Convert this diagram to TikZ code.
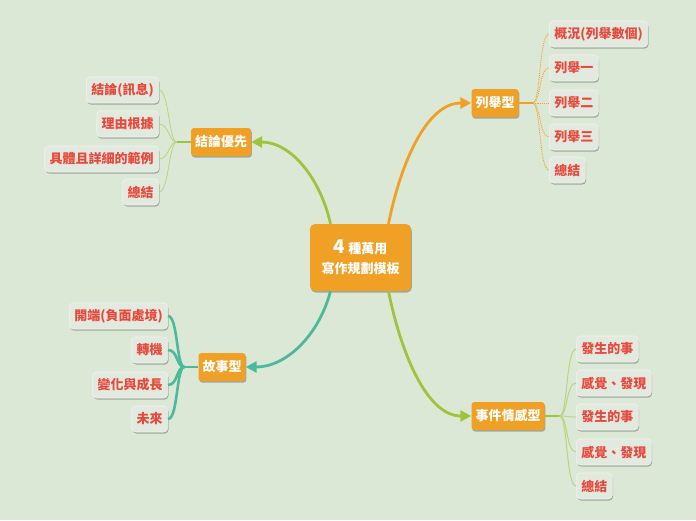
\documentclass[tikz,border=0pt]{standalone}
\usepackage{fontspec}
\setmainfont{Noto Sans CJK TC}
\usetikzlibrary{shadows,arrows.meta}
\definecolor{bgcol}{HTML}{DCE8D6}
\definecolor{mainorange}{HTML}{F0A024}
\definecolor{leafgray}{HTML}{E2EADF}
\definecolor{leafred}{HTML}{E8493D}
\definecolor{grassgreen}{HTML}{9EC43E}
\definecolor{paleleaf}{HTML}{B8D57E}
\definecolor{tealgreen}{HTML}{4BBA9C}

\tikzset{
  softshadow/.style={drop shadow={shadow xshift=0.8pt, shadow yshift=-1.6pt, fill=black, opacity=0.28}},
  topic/.style={fill=mainorange, text=white, rounded corners=3pt, inner xsep=4pt, inner ysep=0pt,
    minimum height=28pt, font=\fontsize{13}{15}\selectfont\bfseries, softshadow},
  leaf/.style={fill=leafgray, draw=white!50!leafgray, line width=0.6pt, text=leafred, rounded corners=4pt,
    inner xsep=5pt, inner ysep=0pt, minimum height=26pt, font=\fontsize{13}{15}\selectfont\bfseries, softshadow},
  mainlink/.style={line width=2.8pt, -{Triangle[length=11pt,width=11pt]}},
}

\begin{document}
\begin{tikzpicture}[x=1pt, y=-1pt]
    \fill[bgcol] (0,0) rectangle (696,520);
    \useasboundingbox (0,0) rectangle (696,520);

    % centre
    \node[fill=mainorange, text=white, rounded corners=5pt, minimum width=101pt, minimum height=67pt,
      align=center, softshadow, font=\fontsize{13}{20}\selectfont\bfseries] (core) at (360.5,257.5)
      {{\fontsize{19}{20}\selectfont 4} 種萬用\\寫作規劃模板};

    % branches
    \node[topic] (list) at (495,103) {列舉型};
    \node[topic] (concl) at (221,142) {結論優先};
    \node[topic] (story) at (222,367) {故事型};
    \node[topic] (event) at (508,416) {事件情感型};

    \draw[mainlink, mainorange] ([xshift=28pt]core.north) .. controls +(12,-60) and +(-45,0) .. (list.west);
    \draw[mainlink, grassgreen] ([xshift=-30pt]core.north) .. controls +(-10,-45) and +(40,0) .. (concl.east);
    \draw[mainlink, tealgreen] ([xshift=-30pt]core.south) .. controls +(-12,45) and +(40,0) .. (story.east);
    \draw[mainlink, grassgreen] ([xshift=28pt]core.south) .. controls +(12,60) and +(-45,0) .. (event.west);

    % 列舉型
    \node[leaf, anchor=west] (lista) at (549,34) {概況(列舉數個)};
    \node[leaf, anchor=west] (listb) at (549,68) {列舉一};
    \node[leaf, anchor=west] (listc) at (549,103) {列舉二};
    \node[leaf, anchor=west] (listd) at (549,137) {列舉三};
    \node[leaf, anchor=west] (liste) at (549,170) {總結};
    \coordinate (listj) at ([xshift=14pt]list.east);
    \draw[mainorange, line width=1.2pt] (list.east) -- (listj);
    \foreach \n in {a,b,c,d,e}
      \draw[mainorange, densely dotted, line width=0.9pt] (listj) .. controls +(8,0) and +(-10,0) .. (list\n.west);

    % 結論優先
    \node[leaf, anchor=east] (concla) at (159,90) {結論(訊息)};
    \node[leaf, anchor=east] (conclb) at (159,124) {理由根據};
    \node[leaf, anchor=east] (conclc) at (159,159) {具體且詳細的範例};
    \node[leaf, anchor=east] (concld) at (159,192) {總結};
    \coordinate (conclj) at ([xshift=-14pt]concl.west);
    \draw[grassgreen, line width=1.2pt] (concl.west) -- (conclj);
    \foreach \n in {a,b,c,d}
      \draw[paleleaf, line width=0.8pt] (conclj) .. controls +(-8,0) and +(10,0) .. (concl\n.east);

    % 故事型
    \node[leaf, anchor=east] (storya) at (168,316) {開端(負面處境)};
    \node[leaf, anchor=east] (storyb) at (168,350) {轉機};
    \node[leaf, anchor=east] (storyc) at (168,385) {變化與成長};
    \node[leaf, anchor=east] (storyd) at (168,419) {未來};
    \coordinate (storyj) at ([xshift=-14pt]story.west);
    \draw[tealgreen, line width=2.6pt] (story.west) -- (storyj);
    \foreach \n in {a,b,c,d}
      \draw[tealgreen, line width=2.6pt] (storyj) .. controls +(-8,0) and +(10,0) .. (story\n.east);

    % 事件情感型
    \node[leaf, anchor=west] (eventa) at (576,349) {發生的事};
    \node[leaf, anchor=west] (eventb) at (576,383) {感覺、發現};
    \node[leaf, anchor=west] (eventc) at (576,417) {發生的事};
    \node[leaf, anchor=west] (eventd) at (576,452) {感覺、發現};
    \node[leaf, anchor=west] (evente) at (576,486) {總結};
    \coordinate (eventj) at ([xshift=15pt]event.east);
    \draw[grassgreen, line width=1.4pt] (event.east) -- (eventj);
    \foreach \n in {a,b,c,d,e}
      \draw[paleleaf, line width=1pt] (eventj) .. controls +(8,0) and +(-10,0) .. (event\n.west);
\end{tikzpicture}
\end{document}
